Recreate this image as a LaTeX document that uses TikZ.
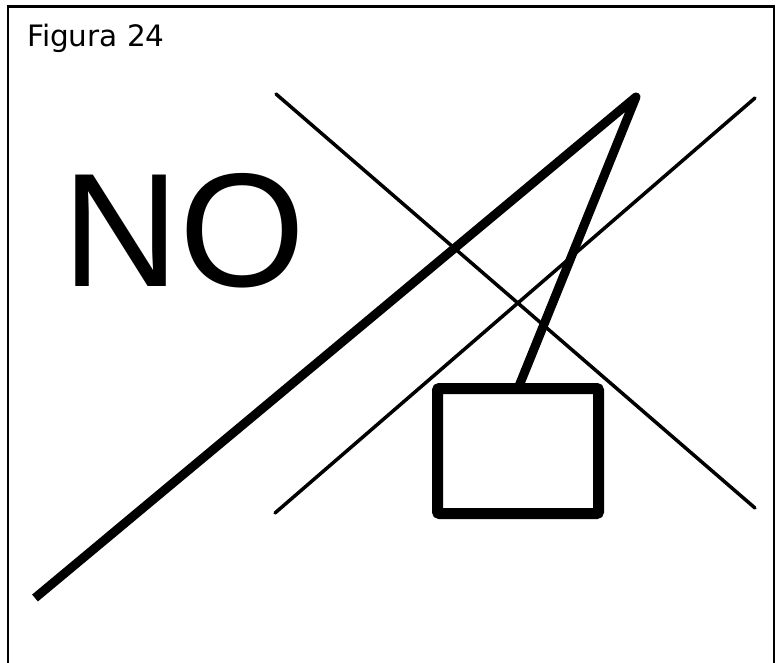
\documentclass[tikz,border=0pt]{standalone}
\usepackage{fontspec}
\setmainfont{DejaVu Sans}
\newfontfamily\arialfont{Liberation Sans}
\begin{document}
\begin{tikzpicture}[x=1pt,y=-1pt,
  thinline/.style={line width=3.5pt,line cap=round},
  thickline/.style={line width=9pt},
  frameline/.style={line width=2.5pt}]
\useasboundingbox (0,0) rectangle (777,663);
% frame
\draw[frameline] (8,663) -- (8,6.5) -- (774,6.5) -- (774,663);
% texts
\node[anchor=base west,inner sep=0] (title) at (27,47) {\fontsize{29.5}{29.5}\selectfont Figura 24};
\node[anchor=base west,inner sep=0] (no) at (62,287) {\arialfont\fontsize{162}{162}\selectfont NO};
% thin crossing lines
\coordinate (a1) at (276,94);
\coordinate (a2) at (755,508);
\coordinate (b1) at (275,513);
\coordinate (b2) at (755,98);
\draw[thinline] (a1) -- (a2);
\draw[thinline] (b1) -- (b2);
% box
\node[draw,line width=11pt,rounded corners=2pt,minimum width=161pt,minimum height=125pt,inner sep=0,outer sep=0] (box) at (518,451) {};
% thick line
\coordinate (p1) at (35,598);
\coordinate (p2) at (636,97);
\draw[thickline,line join=round] (p1) -- (p2) -- (box.north -| 518,388);
\end{tikzpicture}
\end{document}
